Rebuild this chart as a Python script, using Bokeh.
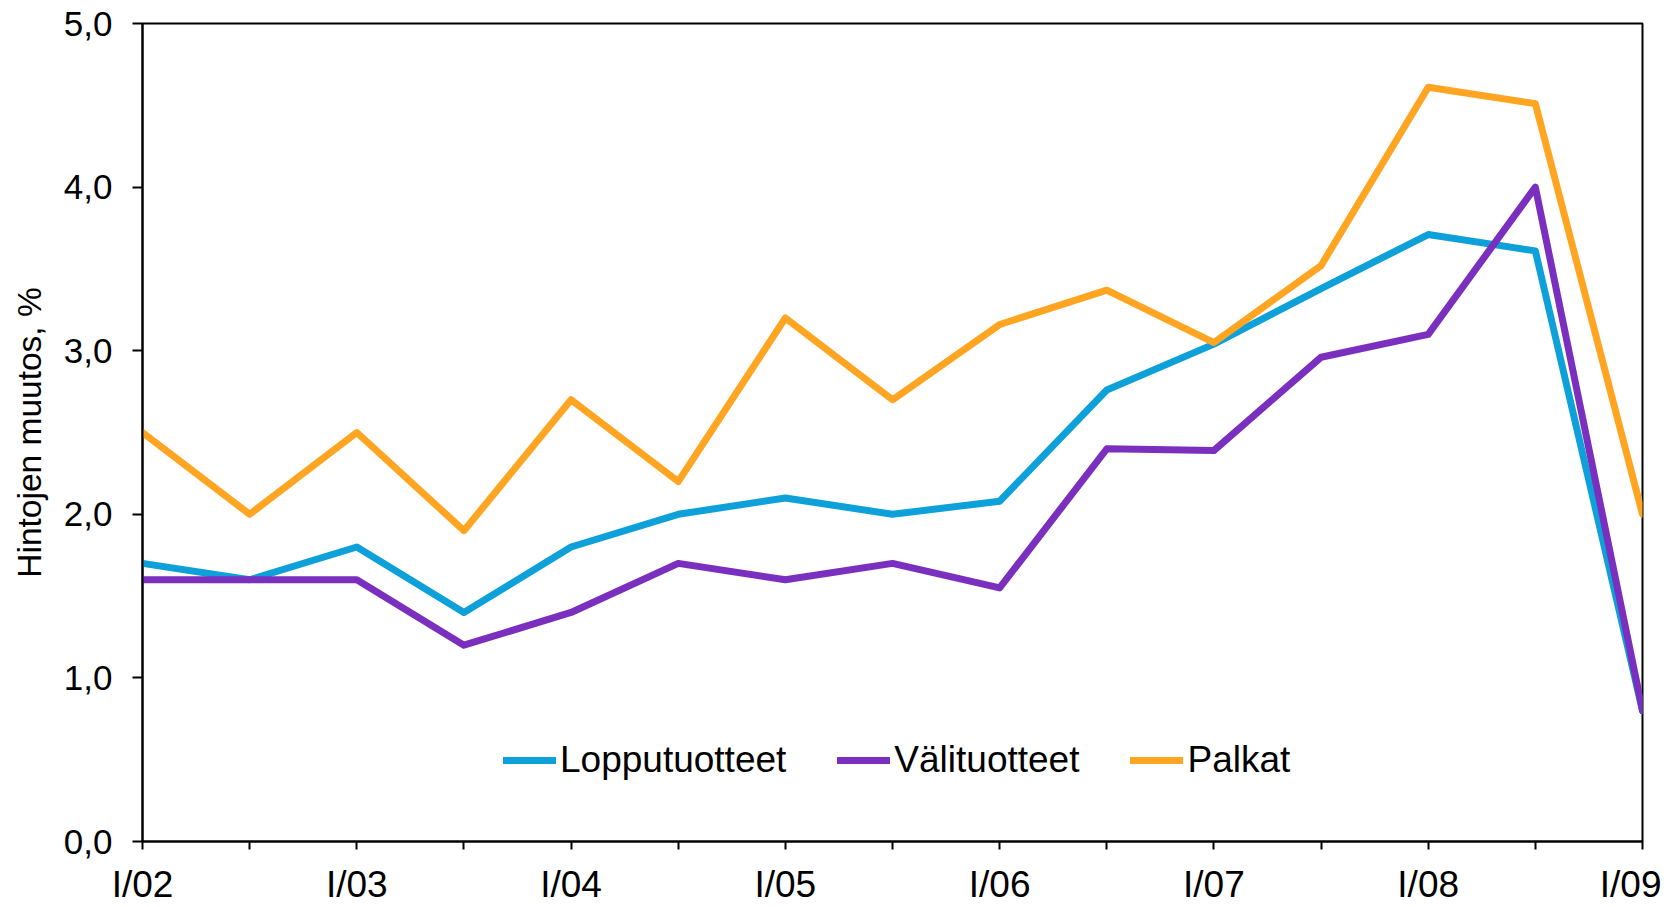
from bokeh.plotting import figure
from bokeh.models import Range1d, FixedTicker, Legend, LegendItem
from bokeh.embed import file_html
from bokeh.resources import INLINE

periods = ["I/02", "II/02", "I/03", "II/03", "I/04", "II/04", "I/05", "II/05",
           "I/06", "II/06", "I/07", "II/07", "I/08", "II/08", "I/09"]
lopputuotteet = [1.7, 1.6, 1.8, 1.4, 1.8, 2.0, 2.1, 2.0, 2.08, 2.76, 3.04, 3.38, 3.71, 3.61, 0.8]
valituotteet = [1.6, 1.6, 1.6, 1.2, 1.4, 1.7, 1.6, 1.7, 1.55, 2.4, 2.39, 2.96, 3.1, 4.0, 0.8]
palkat = [2.5, 2.0, 2.5, 1.9, 2.7, 2.2, 3.2, 2.7, 3.16, 3.37, 3.05, 3.52, 4.61, 4.51, 2.0]
y_ticks = [0, 1, 2, 3, 4, 5]
y_tick_labels = ["0,0", "1,0", "2,0", "3,0", "4,0", "5,0"]

FONT = "Liberation Sans"
x = list(range(len(periods)))

p = figure(width=1661, height=907, output_backend="svg", toolbar_location=None,
           x_range=Range1d(0, len(periods) - 1), y_range=Range1d(0, 5),
           min_border_left=142, min_border_right=19, min_border_top=23, min_border_bottom=66)
p.background_fill_color = "white"
p.border_fill_color = "white"
p.outline_line_color = "black"
p.outline_line_width = 2
p.grid.visible = False

LW = 7
r1 = p.line(x, lopputuotteet, line_color="#0EA1D9", line_width=LW, line_join="round", line_cap="round")
r2 = p.line(x, valituotteet, line_color="#7B2FBE", line_width=LW, line_join="round", line_cap="round")
r3 = p.line(x, palkat, line_color="#FFA521", line_width=LW, line_join="round", line_cap="round")

p.xaxis.ticker = FixedTicker(ticks=x, minor_ticks=[])
p.xaxis.major_label_overrides = {i: (periods[i] if not periods[i].startswith("II") else "") for i in x}
p.yaxis.ticker = FixedTicker(ticks=y_ticks, minor_ticks=[])
p.yaxis.major_label_overrides = {t: l for t, l in zip(y_ticks, y_tick_labels)}

for ax in (p.xaxis[0], p.yaxis[0]):
    ax.axis_line_width = 2
    ax.axis_line_color = "black"
    ax.major_tick_line_width = 2
    ax.major_tick_line_color = "black"
    ax.major_tick_in = 0
    ax.major_tick_out = 10
    ax.minor_tick_line_color = None
    ax.major_label_text_font = FONT
    ax.major_label_text_font_size = "35px"
    ax.major_label_text_color = "black"

p.xaxis.major_tick_out = 8
p.xaxis.major_label_text_font_size = "37px"
p.xaxis.major_label_standoff = 14
p.yaxis.major_label_standoff = 20
p.yaxis.axis_label = "Hintojen muutos, %"
p.yaxis.axis_label_text_font = FONT
p.yaxis.axis_label_text_font_size = "33.5px"
p.yaxis.axis_label_text_font_style = "normal"
p.yaxis.axis_label_text_color = "black"
p.yaxis.axis_label_standoff = 13

legend = Legend(items=[LegendItem(label="Lopputuotteet", renderers=[r1]),
                       LegendItem(label="Välituotteet", renderers=[r2]),
                       LegendItem(label="Palkat", renderers=[r3])],
                orientation="horizontal", location=(361, 60),
                label_text_font=FONT, label_text_font_size="37px",
                label_text_color="black",
                background_fill_alpha=0, border_line_color=None,
                glyph_width=53, label_standoff=4, spacing=51, padding=0, margin=0)
p.add_layout(legend, "center")

open("out.html", "w").write(file_html(p, INLINE))
